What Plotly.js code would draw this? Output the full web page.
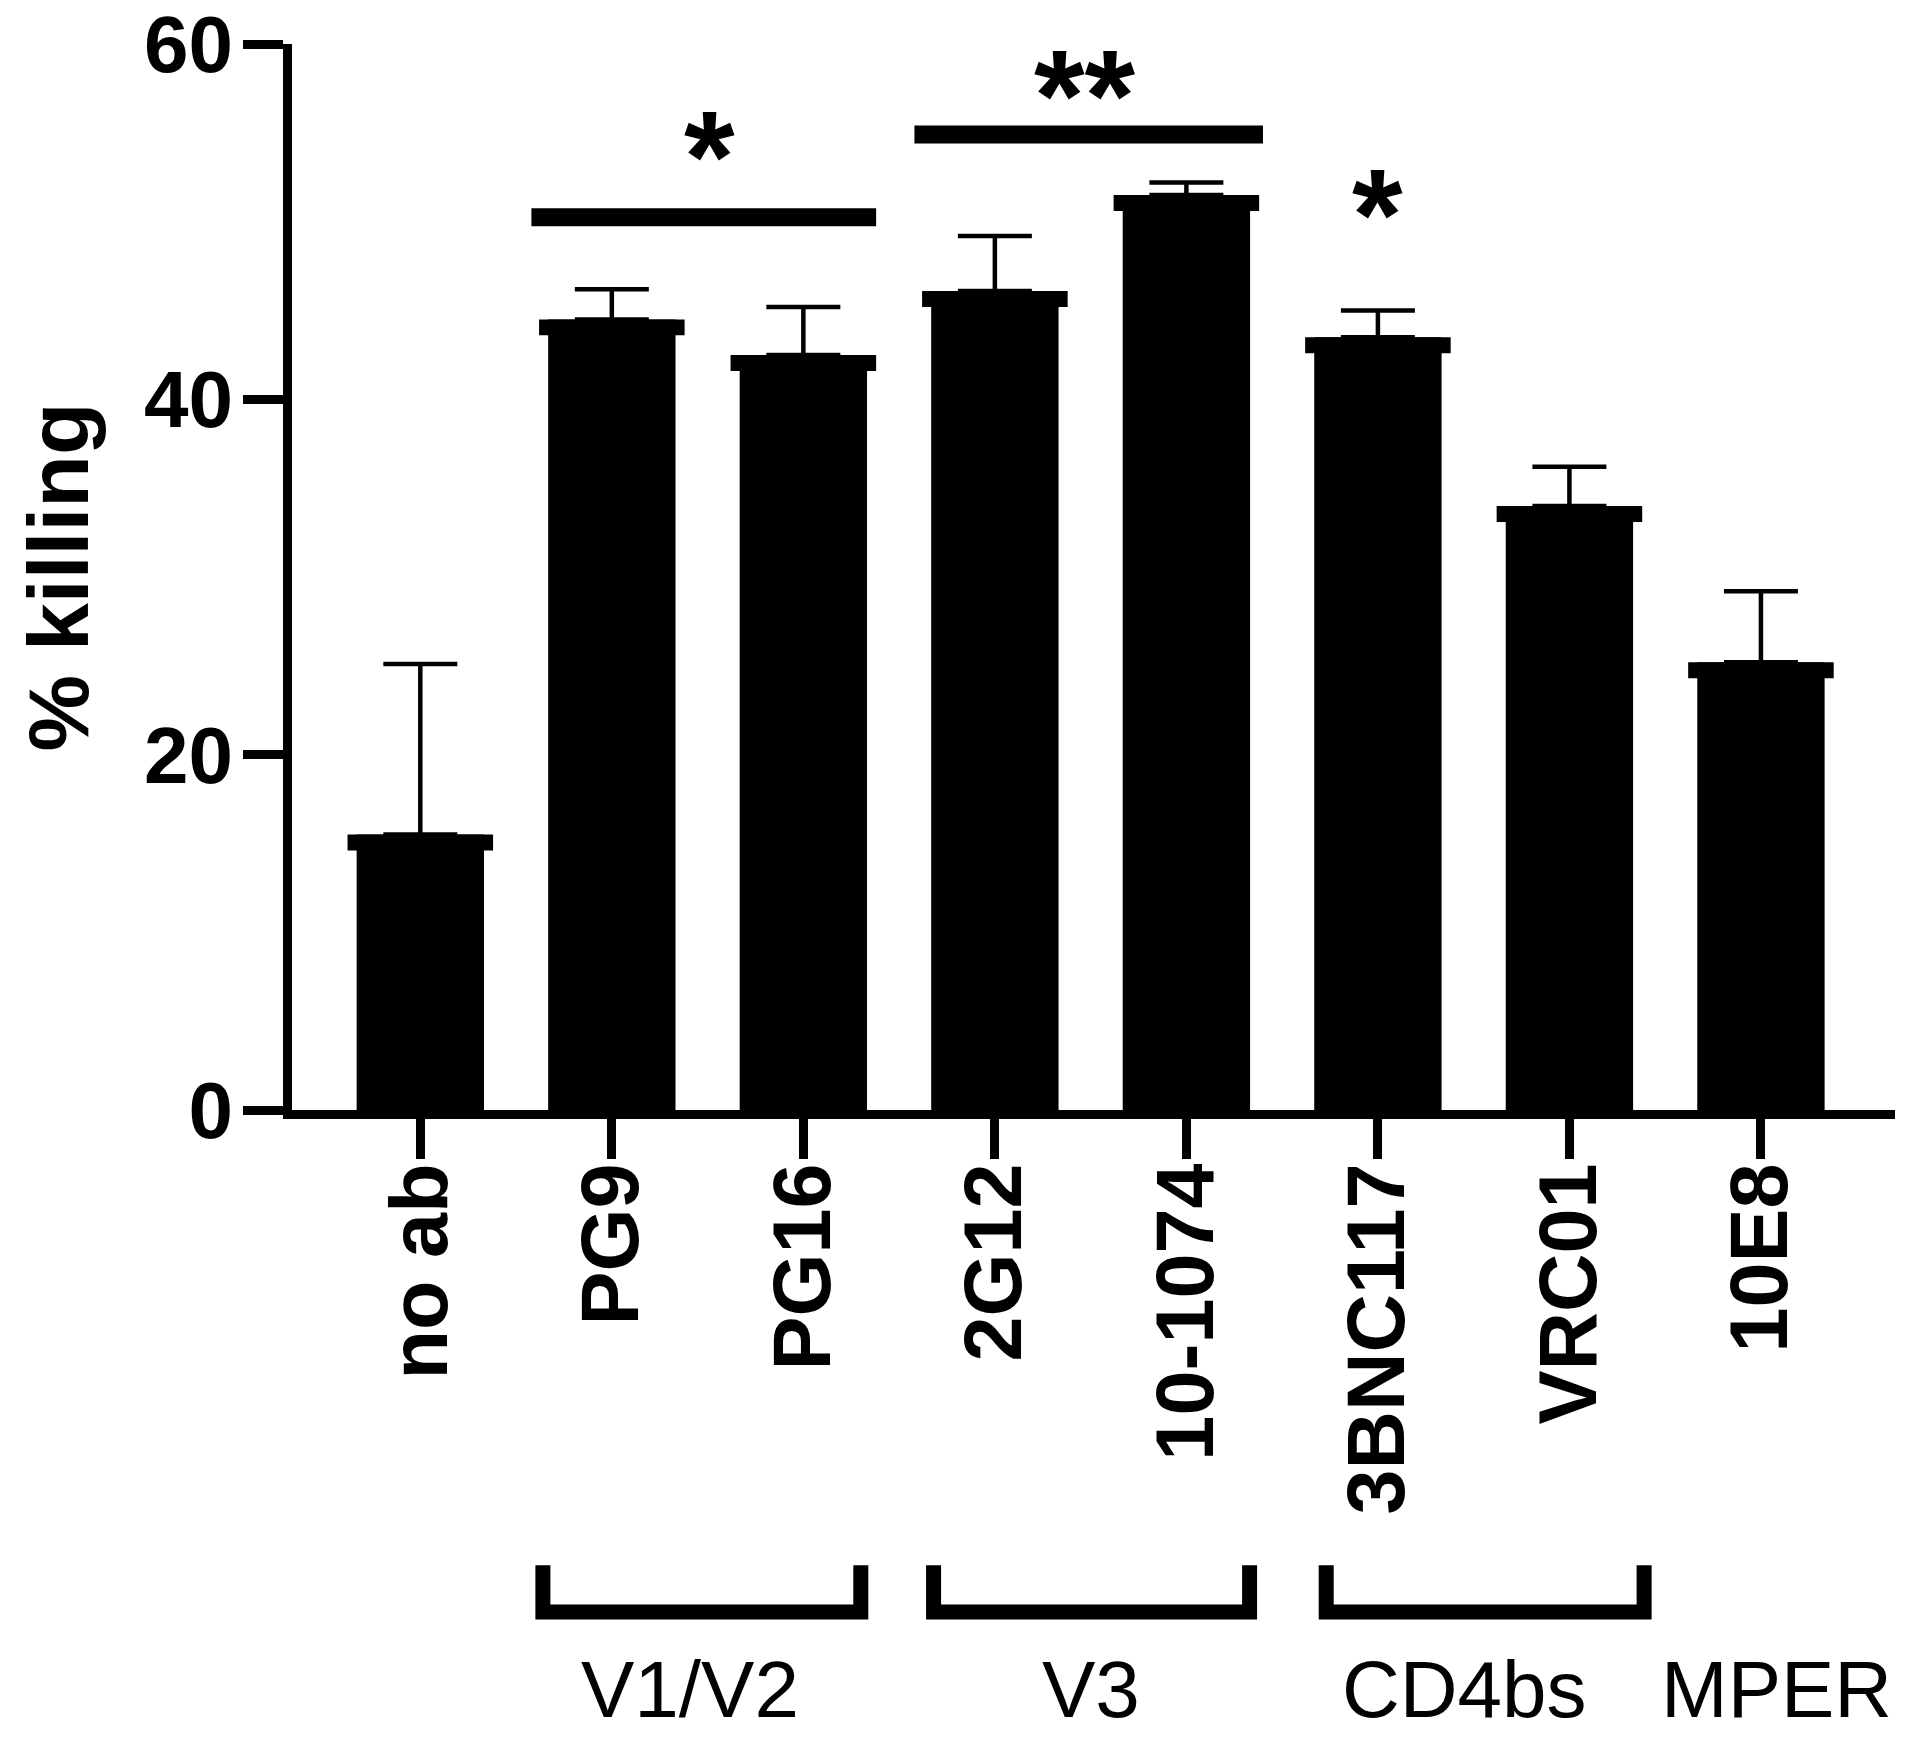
<!DOCTYPE html>
<html>
<head>
<meta charset="utf-8">
<script src="https://cdn.plot.ly/plotly-3.0.1.min.js"></script>
<style>html,body{margin:0;padding:0;background:#fff;}#chart{width:1920px;height:1741px;}</style>
</head>
<body>
<div id="chart"></div>
<script>
// ---- data ----
const categories = ['no ab', 'PG9', 'PG16', '2G12', '10-1074', '3BNC117', 'VRC01', '10E8'];
const meanKilling = [15.5, 44.5, 42.5, 46.1, 51.5, 43.5, 34.0, 25.2];
const errUpper = [9.6, 1.7, 2.7, 3.1, 0.7, 1.5, 2.2, 4.0];

// significance bars (category-index span, height in % killing)
const sigLineStart = [0.58, 2.58];
const sigLineEnd = [2.38, 4.40];
const sigLineY = [50.25, 54.9];
// significance stars
const sigStarText = ['*', '**', '*'];
const sigStarX = [1.51, 3.47, 5.0];
const sigStarY = [54.9, 58.3, 51.6];

// epitope groups
const groupNames = ['V1/V2', 'V3', 'CD4bs', 'MPER'];
const groupLabelX = [1.41, 3.5, 5.45, 7.08];
const groupBracketStart = [0.64, 2.68, 4.73, null];
const groupBracketEnd = [2.30, 4.33, 6.39, null];

// ---- build ----
const idx = categories.map((_, i) => i);
const CAP = 0.9;
const FONT = 'Liberation Sans, Arial, Helvetica, sans-serif';

const traces = [
  {
    type: 'bar', x: idx, y: meanKilling, width: 0.665,
    marker: {color: '#000', line: {width: 0}}, hoverinfo: 'skip'
  },
  {
    type: 'bar', x: idx, y: meanKilling.map(() => CAP),
    base: meanKilling.map(v => v - CAP), width: 0.76,
    marker: {color: '#000', line: {width: 0}}, hoverinfo: 'skip'
  },
  {
    type: 'scatter', mode: 'markers', x: idx, y: meanKilling,
    marker: {size: 1, opacity: 0},
    error_y: {type: 'data', symmetric: false, array: errUpper,
              arrayminus: meanKilling.map(() => 0),
              color: '#000', thickness: 4.5, width: 37},
    hoverinfo: 'skip'
  }
];

sigLineStart.forEach((s, i) => {
  traces.push({
    type: 'scatter', mode: 'lines',
    x: [s, sigLineEnd[i]], y: [sigLineY[i], sigLineY[i]],
    line: {color: '#000', width: 18}, hoverinfo: 'skip'
  });
});

const annotations = sigStarText.map((t, i) => ({
  text: t, x: sigStarX[i], y: sigStarY[i], xref: 'x', yref: 'y',
  showarrow: false, xanchor: 'center', yanchor: 'middle', yshift: -22,
  font: {family: FONT, size: 130, color: '#000', weight: 'bold'}
}));

groupNames.forEach((g, i) => {
  annotations.push({
    text: g, x: groupLabelX[i], y: -0.544, xref: 'x', yref: 'paper',
    showarrow: false, xanchor: 'center', yanchor: 'middle',
    font: {family: FONT, size: 80, color: '#000'}
  });
});

const shapes = [];
groupBracketStart.forEach((s, i) => {
  if (s === null) return;
  const e = groupBracketEnd[i];
  const yTop = -0.427, yBot = -0.471;
  shapes.push({
    type: 'path', xref: 'x', yref: 'paper',
    path: `M ${s},${yTop} L ${s},${yBot} L ${e},${yBot} L ${e},${yTop}`,
    line: {color: '#000', width: 15}
  });
});

const layout = {
  width: 1920, height: 1741,
  margin: {l: 292, r: 25, t: 44, b: 631},
  paper_bgcolor: '#fff', plot_bgcolor: '#fff',
  showlegend: false,
  barmode: 'overlay',
  xaxis: {
    range: [-0.67, 7.70], tickmode: 'array', tickvals: idx, ticktext: categories,
    tickangle: -90, ticks: 'outside', ticklen: 40, tickwidth: 9, tickcolor: '#000',
    ticklabelstandoff: -28,
    showline: true, linewidth: 9, linecolor: '#000',
    showgrid: false, zeroline: false, automargin: false,
    tickfont: {family: FONT, size: 81, color: '#000', weight: 'bold'}
  },
  yaxis: {
    range: [0, 60], tickmode: 'array', tickvals: [0, 20, 40, 60],
    ticks: 'outside', ticklen: 40, tickwidth: 9, tickcolor: '#000',
    ticklabelstandoff: -6,
    showline: true, linewidth: 9, linecolor: '#000',
    showgrid: false, zeroline: false, automargin: false,
    tickfont: {family: FONT, size: 80, color: '#000', weight: 'bold'},
    title: {text: '% killing', standoff: 30,
            font: {family: FONT, size: 86, color: '#000', weight: 'bold'}}
  },
  annotations: annotations,
  shapes: shapes
};

Plotly.newPlot('chart', traces, layout, {staticPlot: true, displayModeBar: false});
</script>
</body>
</html>
